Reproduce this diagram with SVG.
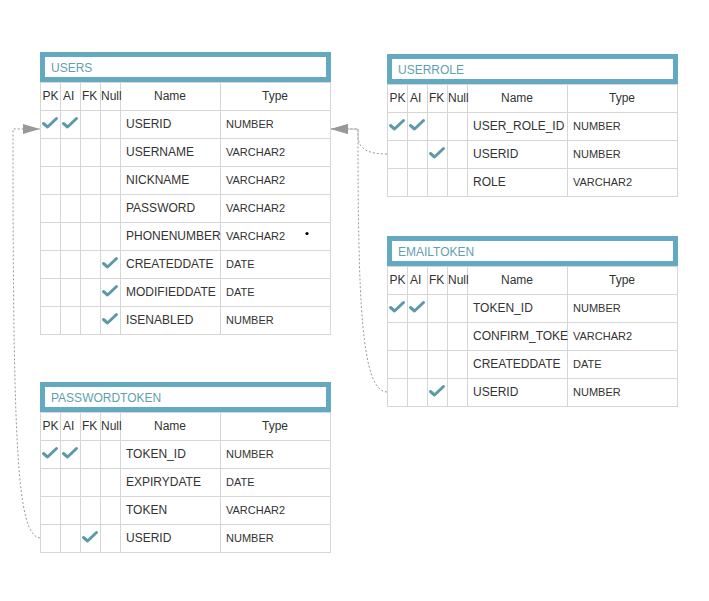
<svg xmlns="http://www.w3.org/2000/svg" width="709" height="601" viewBox="0 0 709 601">
<style>
  text { font-family: "Liberation Sans", Arial, sans-serif; fill: #333; }
  .hdr { fill: #fff; stroke: #62a9c1; stroke-width: 5; }
  .title { font-size: 12px; fill: #5f9fb0; }
  .grid { fill: #fff; stroke: #d6d6d6; stroke-width: 1; }
  .gl { fill: none; stroke: #d6d6d6; stroke-width: 1; }
  .ch { font-size: 12px; }
  .chc { font-size: 12px; text-anchor: middle; }
  .nm { font-size: 12px; }
  .ty { font-size: 11px; }
  .conn { fill: none; stroke: #999; stroke-width: 1; stroke-dasharray: 2 2; }
</style>
<defs>
  <path id="ck" d="M-6.5,0.5 L-2.5,4 L6.5,-4.5" fill="none" stroke="#5d9aa7" stroke-width="3" stroke-linecap="round" stroke-linejoin="round"/>
  <marker id="arr" markerUnits="userSpaceOnUse" markerWidth="18" markerHeight="11" refX="17" refY="5" orient="auto">
    <path d="M0,0 L17,5 L0,10 Z" fill="#999"/>
  </marker>
</defs>
<rect width="709" height="601" fill="#fff"/>

<g id="connectors">
  <path class="conn" d="M387,154 C370,154 358,150 358,136 L358,129 L331,129" marker-end="url(#arr)"/>
  <path class="conn" d="M387,392 C361,391 358,300 358,129 L331,129" marker-end="url(#arr)"/>
  <path class="conn" d="M40,538 C17,535 13,450 13,129 L40,129" marker-end="url(#arr)"/>
</g>

<g id="users" transform="translate(40,52)">
  <rect class="hdr" x="2.5" y="2.5" width="286" height="25"/>
  <text class="title" x="11" y="19.5">USERS</text>
  <rect class="grid" x="0.5" y="30.5" width="290" height="252"/>
  <path class="gl" d="M0,58.5H291M0,86.5H291M0,114.5H291M0,142.5H291M0,170.5H291M0,198.5H291M0,226.5H291M0,254.5H291M20.5,30V282M40.5,30V282M60.5,30V282M80.5,30V282M180.5,30V282"/>
  <text class="ch" x="2.5" y="48">PK</text>
  <text class="ch" x="23" y="48">AI</text>
  <text class="ch" x="42" y="48">FK</text>
  <text class="ch" x="61" y="48">Null</text>
  <text class="chc" x="130" y="48">Name</text>
  <text class="chc" x="235" y="48">Type</text>
  <text class="nm" x="86" y="76">USERID</text><text class="ty" x="186" y="76">NUMBER</text>
  <text class="nm" x="86" y="104">USERNAME</text><text class="ty" x="186" y="104">VARCHAR2</text>
  <text class="nm" x="86" y="132">NICKNAME</text><text class="ty" x="186" y="132">VARCHAR2</text>
  <text class="nm" x="86" y="160">PASSWORD</text><text class="ty" x="186" y="160">VARCHAR2</text>
  <text class="nm" x="86" y="188">PHONENUMBER</text><text class="ty" x="186" y="188">VARCHAR2</text>
  <text class="nm" x="86" y="216">CREATEDDATE</text><text class="ty" x="186" y="216">DATE</text>
  <text class="nm" x="86" y="244">MODIFIEDDATE</text><text class="ty" x="186" y="244">DATE</text>
  <text class="nm" x="86" y="272">ISENABLED</text><text class="ty" x="186" y="272">NUMBER</text>
  <use href="#ck" x="10" y="71"/><use href="#ck" x="30" y="71"/>
  <use href="#ck" x="70" y="211"/>
  <use href="#ck" x="70" y="239"/>
  <use href="#ck" x="70" y="267"/>
</g>

<g id="userrole" transform="translate(387,54)">
  <rect class="hdr" x="2.5" y="2.5" width="286" height="25"/>
  <text class="title" x="11" y="19.5">USERROLE</text>
  <rect class="grid" x="0.5" y="30.5" width="290" height="112"/>
  <path class="gl" d="M0,58.5H291M0,86.5H291M0,114.5H291M20.5,30V142M40.5,30V142M60.5,30V142M80.5,30V142M180.5,30V142"/>
  <text class="ch" x="2.5" y="48">PK</text>
  <text class="ch" x="23" y="48">AI</text>
  <text class="ch" x="42" y="48">FK</text>
  <text class="ch" x="61" y="48">Null</text>
  <text class="chc" x="130" y="48">Name</text>
  <text class="chc" x="235" y="48">Type</text>
  <text class="nm" x="86" y="76">USER_ROLE_ID</text><text class="ty" x="186" y="76">NUMBER</text>
  <text class="nm" x="86" y="104">USERID</text><text class="ty" x="186" y="104">NUMBER</text>
  <text class="nm" x="86" y="132">ROLE</text><text class="ty" x="186" y="132">VARCHAR2</text>
  <use href="#ck" x="10" y="71"/><use href="#ck" x="30" y="71"/>
  <use href="#ck" x="50" y="99"/>
</g>

<g id="emailtoken" transform="translate(387,236)">
  <rect class="hdr" x="2.5" y="2.5" width="286" height="25"/>
  <text class="title" x="11" y="19.5">EMAILTOKEN</text>
  <rect class="grid" x="0.5" y="30.5" width="290" height="140"/>
  <path class="gl" d="M0,58.5H291M0,86.5H291M0,114.5H291M0,142.5H291M20.5,30V170M40.5,30V170M60.5,30V170M80.5,30V170M180.5,30V170"/>
  <text class="ch" x="2.5" y="48">PK</text>
  <text class="ch" x="23" y="48">AI</text>
  <text class="ch" x="42" y="48">FK</text>
  <text class="ch" x="61" y="48">Null</text>
  <text class="chc" x="130" y="48">Name</text>
  <text class="chc" x="235" y="48">Type</text>
  <text class="nm" x="86" y="76">TOKEN_ID</text><text class="ty" x="186" y="76">NUMBER</text>
  <text class="nm" x="86" y="104">CONFIRM_TOKE</text><text class="ty" x="186" y="104">VARCHAR2</text>
  <text class="nm" x="86" y="132">CREATEDDATE</text><text class="ty" x="186" y="132">DATE</text>
  <text class="nm" x="86" y="160">USERID</text><text class="ty" x="186" y="160">NUMBER</text>
  <use href="#ck" x="10" y="71"/><use href="#ck" x="30" y="71"/>
  <use href="#ck" x="50" y="155"/>
</g>

<g id="passwordtoken" transform="translate(40,382)">
  <rect class="hdr" x="2.5" y="2.5" width="286" height="25"/>
  <text class="title" x="11" y="19.5">PASSWORDTOKEN</text>
  <rect class="grid" x="0.5" y="30.5" width="290" height="140"/>
  <path class="gl" d="M0,58.5H291M0,86.5H291M0,114.5H291M0,142.5H291M20.5,30V170M40.5,30V170M60.5,30V170M80.5,30V170M180.5,30V170"/>
  <text class="ch" x="2.5" y="48">PK</text>
  <text class="ch" x="23" y="48">AI</text>
  <text class="ch" x="42" y="48">FK</text>
  <text class="ch" x="61" y="48">Null</text>
  <text class="chc" x="130" y="48">Name</text>
  <text class="chc" x="235" y="48">Type</text>
  <text class="nm" x="86" y="76">TOKEN_ID</text><text class="ty" x="186" y="76">NUMBER</text>
  <text class="nm" x="86" y="104">EXPIRYDATE</text><text class="ty" x="186" y="104">DATE</text>
  <text class="nm" x="86" y="132">TOKEN</text><text class="ty" x="186" y="132">VARCHAR2</text>
  <text class="nm" x="86" y="160">USERID</text><text class="ty" x="186" y="160">NUMBER</text>
  <use href="#ck" x="10" y="71"/><use href="#ck" x="30" y="71"/>
  <use href="#ck" x="50" y="155"/>
</g>

<circle cx="307" cy="233.5" r="1.6" fill="#000"/>
</svg>
